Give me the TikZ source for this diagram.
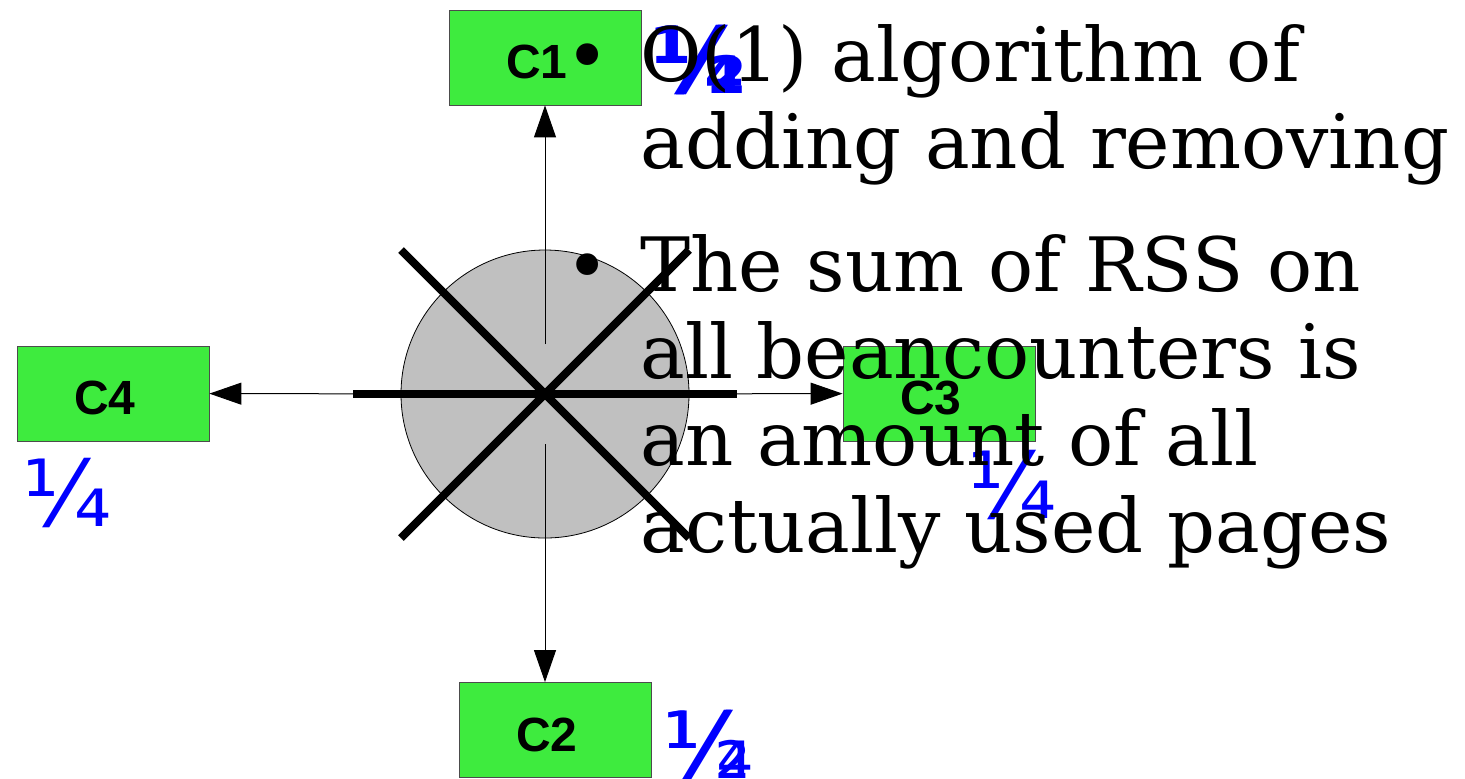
\documentclass[tikz,border=0pt]{standalone}
\usepackage{fontspec}
\setmainfont{DejaVu Serif}
\newfontfamily\boxfont{Liberation Sans}
\newfontfamily\fracfont{DejaVu Sans}
\usetikzlibrary{arrows.meta,positioning}
\definecolor{boxgreen}{RGB}{62,235,62}
\definecolor{wheelgray}{RGB}{192,192,192}
\definecolor{fracblue}{RGB}{0,0,255}

\begin{document}
\begin{tikzpicture}[
  x=0.5pt, y=-0.5pt,
  cbox/.style={draw=black!70, line width=0.4pt, fill=boxgreen, minimum width=96pt, minimum height=47.5pt, inner sep=0pt, text height=21pt, text depth=0pt, execute at end node=\hspace{8pt}, font=\boxfont\bfseries\fontsize{24}{28}\selectfont},
  frac/.style={text=fracblue, inner sep=0pt, anchor=base west, font=\fracfont\fontsize{46}{52}\selectfont},
  arr/.style={-{Triangle[length=16pt, width=11pt]}, line width=0.5pt, shorten <=25pt},
  cross/.style={line width=4pt},
  txt/.style={anchor=base west, inner sep=0pt, font=\fontsize{37.5}{43.4}\selectfont, align=left}
]
\useasboundingbox (0,0) rectangle (1465,778);
\node[circle, draw, line width=0.4pt, fill=wheelgray, minimum size=144pt, inner sep=0pt] (wheel) at (545,394) {};
\node[cbox] (c1) at (545,57.5) {C1};
\node[cbox] (c2) at (555,730) {C2};
\node[cbox] (c3) at (939,393.5) {C3};
\node[cbox] (c4) at (113,393.5) {C4};
\draw[arr] (wheel.center) -- (c1);
\draw[arr] (wheel.center) -- (c2.north -| wheel.center);
\draw[arr] (wheel.center) -- (c3);
\draw[arr] (wheel.center) -- (c4);
% the crossed-out wheel
\draw[cross] (353,394) -- (737,394);
\draw[cross] (401,250) -- (689,538);
\draw[cross] (401,538) -- (689,250);
% shares
\node[frac, font=\fracfont\bfseries\fontsize{46}{52}\selectfont] (f1a) at (651,93) {½};
\node[frac, font=\fracfont\bfseries\fontsize{46}{52}\selectfont] (f1b) at (653,93) {¼};
\node[frac] (f2a) at (662,778) {½};
\node[frac] (f2b) at (664,778) {¼};
\node[frac] (f3) at (967,518) {¼};
\node[frac] (f4) at (22,526) {¼};
% bullets
\node[txt, anchor=base] (b1) at (588,82) {\textbullet};
\node[txt] (t1) at (640,168) {O(1) algorithm of\\adding and removing};
\node[txt, anchor=base] (b2) at (588,292) {\textbullet};
\node[txt] (t2) at (640,552) {The sum of RSS on\\all beancounters is\\an amount of all\\actually used pages};
\end{tikzpicture}
\end{document}
